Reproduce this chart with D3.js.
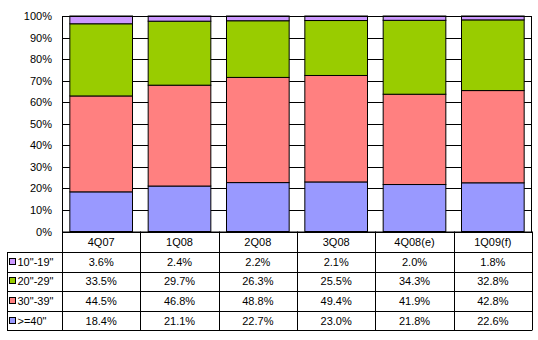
<!DOCTYPE html>
<html><head><meta charset="utf-8">
<script src="https://cdn.jsdelivr.net/npm/d3@7"></script>
<style>
html,body{margin:0;padding:0;background:#fff;}
svg{display:block;font-family:"Liberation Sans",Arial,sans-serif;}
</style></head>
<body><svg id="c" width="538" height="340"></svg>
<script>
const categories = ["4Q07","1Q08","2Q08","3Q08","4Q08(e)","1Q09(f)"];
const seriesNames = ['10"-19"','20"-29"','30"-39"','>=40"'];
const s10_19 = [3.6, 2.4, 2.2, 2.1, 2.0, 1.8];
const s20_29 = [33.5, 29.7, 26.3, 25.5, 34.3, 32.8];
const s30_39 = [44.5, 46.8, 48.8, 49.4, 41.9, 42.8];
const s40 = [18.4, 21.1, 22.7, 23.0, 21.8, 22.6];
const colors = ["#CC99FF","#99CC00","#FF8080","#9999FF"];
const yTicks = [0,10,20,30,40,50,60,70,80,90,100];

const seriesVals = [s10_19, s20_29, s30_39, s40];
const svg = d3.select("#c");
const L = 62, R = 532, T = 16, B = 231.5;
const x = d3.scaleBand().domain(categories).range([L, R]).paddingInner(0.2).paddingOuter(0.1);
const y = d3.scaleLinear().domain([0, 100]).range([B, T]);

// rows for stacking
const rows = categories.map((c, i) => {
  const o = {cat: c};
  seriesNames.forEach((s, j) => o[s] = seriesVals[j][i]);
  return o;
});
// stack bottom to top: >=40, 30-39, 20-29, 10-19
const stackKeys = seriesNames.slice().reverse();
const stack = d3.stack().keys(stackKeys).offset(d3.stackOffsetExpand)(rows);

// plot background
svg.append("rect").attr("x", L).attr("y", T).attr("width", R - L).attr("height", B - T)
  .attr("fill", "#fff");

// gridlines
svg.append("g").selectAll("line").data(yTicks).join("line")
  .attr("x1", L).attr("x2", R)
  .attr("y1", d => Math.round(y(d)) + 0.5).attr("y2", d => Math.round(y(d)) + 0.5)
  .attr("stroke", "#000").attr("stroke-width", 1);

// bars
const colorOf = k => colors[seriesNames.indexOf(k)];
svg.append("g").selectAll("g").data(stack).join("g")
  .attr("fill", d => colorOf(d.key))
  .selectAll("rect").data(d => d).join("rect")
  .attr("x", d => x(d.data.cat))
  .attr("width", x.bandwidth())
  .attr("y", d => y(d[1] * 100))
  .attr("height", d => y(d[0] * 100) - y(d[1] * 100))
  .attr("stroke", "#000").attr("stroke-width", 1);

// plot border
svg.append("rect").attr("x", L + 0.5).attr("y", T + 0.5).attr("width", R - L - 1).attr("height", B - T)
  .attr("fill", "none").attr("stroke", "#000");

// y axis labels
const yAxis = d3.axisLeft(y).tickValues(yTicks).tickFormat(d => d + "%").tickSize(0).tickPadding(10);
const ya = svg.append("g").attr("transform", `translate(${L},0)`).call(yAxis);
ya.select(".domain").remove();
ya.selectAll("text").attr("font-size", "11px").attr("fill", "#000")
  .attr("font-family", "Liberation Sans, Arial, sans-serif");

// table
const rowTop = 231.5, headH = 20.5, rowH = 19.6;
const tLeft = 7;
const t = svg.append("g").attr("stroke", "#000").attr("stroke-width", 1);
const step = x.step();
const colEdges = categories.map((c, i) => L + i * step).concat([R]);
// vertical lines for category columns
colEdges.forEach((cx, i) => {
  t.append("line").attr("x1", Math.round(cx) + 0.5).attr("x2", Math.round(cx) + 0.5)
    .attr("y1", rowTop).attr("y2", rowTop + headH + rowH * 4);
});
// horizontal lines
for (let r = 0; r <= 4; r++) {
  const yy = Math.round(rowTop + headH + r * rowH) + 0.5;
  t.append("line").attr("x1", tLeft).attr("x2", R).attr("y1", yy).attr("y2", yy);
}
// left border
t.append("line").attr("x1", tLeft + 0.5).attr("x2", tLeft + 0.5)
  .attr("y1", rowTop + headH).attr("y2", rowTop + headH + rowH * 4);

const tg = svg.append("g").attr("font-size", "11px").attr("fill", "#000");
// header
tg.selectAll("text.h").data(categories).join("text").attr("class", "h")
  .attr("x", d => x(d) + x.bandwidth() / 2).attr("y", rowTop + headH / 2 + 4)
  .attr("text-anchor", "middle").text(d => d);
// rows
seriesNames.forEach((s, r) => {
  const cy = rowTop + headH + r * rowH + rowH / 2;
  tg.append("rect").attr("x", 9.5).attr("y", Math.round(cy - 3) - 0.5).attr("width", 6).attr("height", 6)
    .attr("fill", colors[r]).attr("stroke", "#000");
  tg.append("text").attr("x", 17.5).attr("y", cy + 4).text(s);
  tg.selectAll("text.v" + r).data(seriesVals[r]).join("text").attr("class", "v" + r)
    .attr("x", (d, i) => x(categories[i]) + x.bandwidth() / 2).attr("y", cy + 4)
    .attr("text-anchor", "middle").text(d => d.toFixed(1) + "%");
});
</script></body></html>
